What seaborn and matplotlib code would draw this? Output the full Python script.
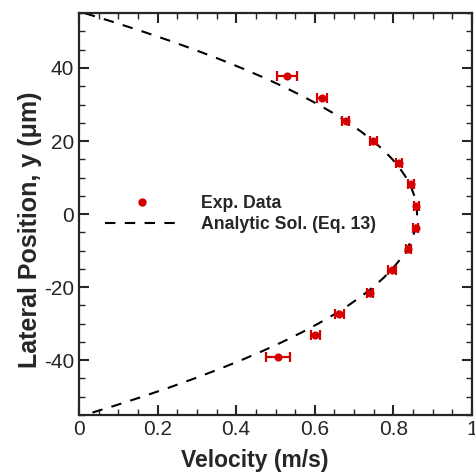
import matplotlib
matplotlib.use("Agg")
import matplotlib.pyplot as plt
from matplotlib.lines import Line2D
from matplotlib.ticker import MultipleLocator
import seaborn as sns
import pandas as pd

exp_v = [0.530, 0.618, 0.679, 0.749, 0.814, 0.844, 0.858, 0.856, 0.838, 0.796, 0.741, 0.662, 0.601, 0.507]
exp_y = [37.7, 31.8, 25.5, 20.1, 13.9, 8.1, 2.3, -3.8, -9.7, -15.4, -21.6, -27.4, -33.2, -39.2]
exp_err = [0.025, 0.013, 0.009, 0.008, 0.007, 0.007, 0.006, 0.006, 0.007, 0.011, 0.008, 0.011, 0.011, 0.030]

# Analytic solution curve
ana_y = [55, 52.5, 50, 47.5, 45, 42.5, 40, 37.5, 35, 32.5, 30, 27.5, 25, 22.5, 20, 17.5, 15, 12.5, 10, 7.5, 5, 2.5,
         0, -2.5, -5, -7.5, -10, -12.5, -15, -17.5, -20, -22.5, -25, -27.5, -30, -32.5, -35, -37.5, -40, -42.5,
         -45, -47.5, -50, -52.5, -55]
ana_v_half = [0.0154, 0.0905, 0.1620, 0.2301, 0.2946, 0.3557, 0.4133, 0.4674, 0.5180, 0.5651, 0.6087, 0.6489,
              0.6855, 0.7187, 0.7483, 0.7745, 0.7972, 0.8164, 0.8321, 0.8443, 0.8530, 0.8583]
ana_v = ana_v_half + [0.8600] + ana_v_half[::-1]

x_ticks = [0, 0.2, 0.4, 0.6, 0.8, 1]
x_tick_labels = ["0", "0.2", "0.4", "0.6", "0.8", "1"]
y_ticks = [-40, -20, 0, 20, 40]
y_tick_labels = ["-40", "-20", "0", "20", "40"]

sns.set_style("ticks")
plt.rcParams["font.family"] = ["Liberation Sans", "DejaVu Sans"]
plt.rcParams["axes.unicode_minus"] = False

fig = plt.figure(figsize=(4.75, 4.72), dpi=100)
ax = fig.add_axes([0.166, 0.121, 0.828, 0.851])

red = "#d40000"
ana_df = pd.DataFrame({"v": ana_v, "y": ana_y})
sns.lineplot(data=ana_df, x="v", y="y", sort=False, ax=ax, color="black",
             lw=1.5, linestyle=(0, (5, 4.5)), estimator=None)

ax.errorbar(exp_v, exp_y, xerr=exp_err, fmt="none", ecolor=red, elinewidth=1.6,
            capsize=3.8, capthick=1.6, zorder=3)
exp_df = pd.DataFrame({"v": exp_v, "y": exp_y})
sns.scatterplot(data=exp_df, x="v", y="y", ax=ax, color=red, s=34, edgecolor=red,
                linewidth=0, zorder=4)

ax.set_xlim(0, 1)
ax.set_ylim(-55, 55)
ax.set_xticks(x_ticks)
ax.set_xticklabels(x_tick_labels)
ax.set_yticks(y_ticks)
ax.set_yticklabels(y_tick_labels)
ax.xaxis.set_minor_locator(MultipleLocator(0.05))
ax.yaxis.set_minor_locator(MultipleLocator(5))
ax.tick_params(which="both", direction="in", top=True, right=True, width=1.5, labelsize=15)
ax.tick_params(which="major", length=7)
ax.tick_params(which="minor", length=4, width=1)
for sp in ax.spines.values():
    sp.set_linewidth(1.6)
    sp.set_visible(True)

ax.set_xlabel("Velocity (m/s)", fontsize=16.5, fontweight="bold")
ax.xaxis.set_label_coords(0.447, -0.085)
ax.set_ylabel("Lateral Position, y (\u03bcm)", fontsize=18, fontweight="bold")
ax.yaxis.set_label_coords(-0.094, 0.46)

handles = [
    Line2D([], [], color=red, marker="o", linestyle="none", markersize=5),
    Line2D([], [], color="black", lw=1.5, linestyle=(0, (5, 4.5))),
]
ax.legend(handles, ["Exp. Data", "Analytic Sol. (Eq. 13)"], loc="center left",
          bbox_to_anchor=(0.066, 0.5), frameon=False, borderpad=0, borderaxespad=0,
          handlelength=4.2, handletextpad=1.25, labelspacing=0.2, numpoints=1,
          prop={"weight": "bold", "size": 12.7})

fig.savefig("out.png", dpi=100)
